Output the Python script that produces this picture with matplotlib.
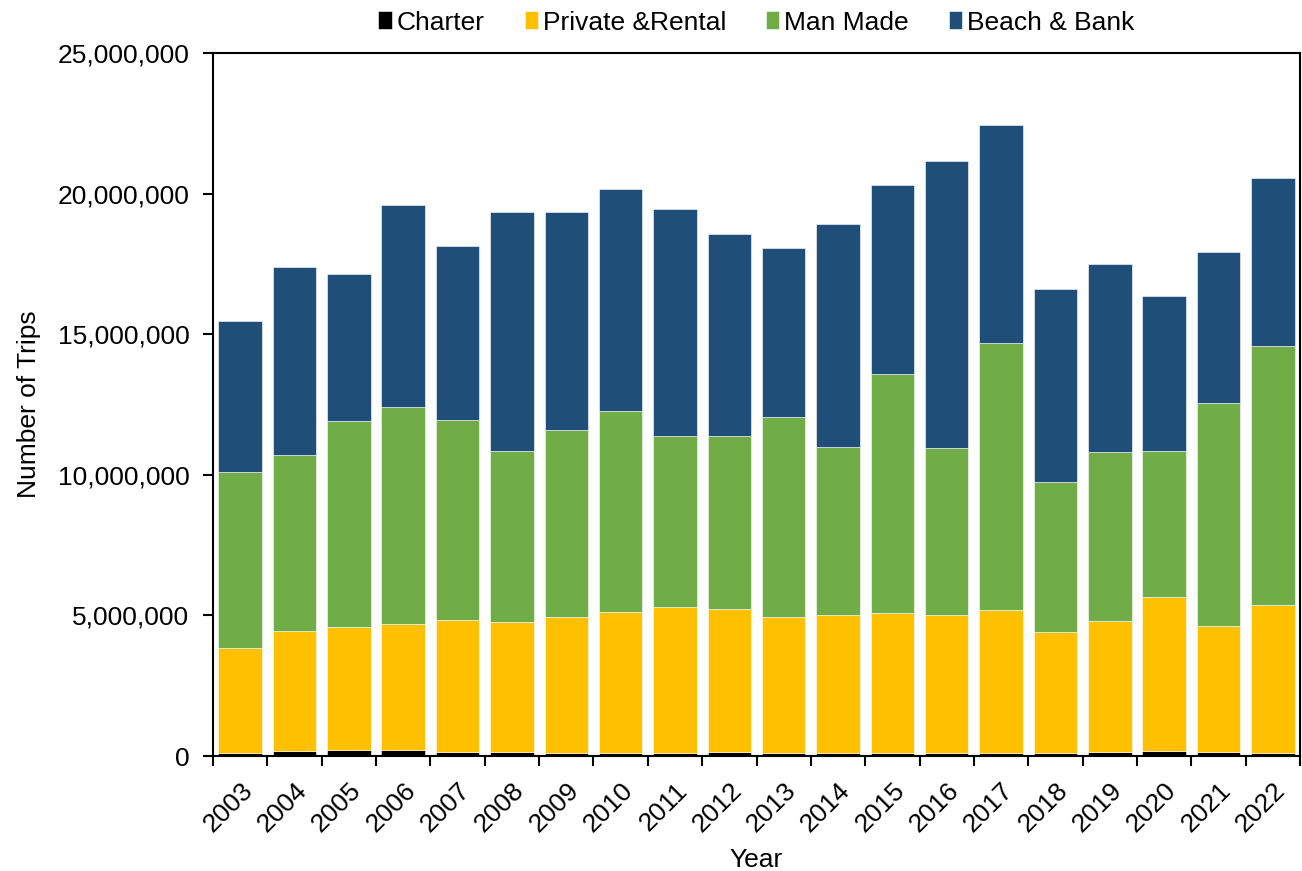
import numpy as np
import matplotlib.pyplot as plt
from matplotlib.ticker import FuncFormatter

plt.rcParams.update({
    "font.family": ["Liberation Sans", "DejaVu Sans"],
    "font.size": 19,
})

years = [str(y) for y in range(2003, 2023)]

# trips per year, by mode
charter = [120e3, 165e3, 200e3, 200e3, 155e3, 155e3, 115e3, 115e3, 115e3, 155e3,
           115e3, 100e3, 90e3, 110e3, 110e3, 110e3, 140e3, 190e3, 150e3, 110e3]
private_rental = [3.73e6, 4.275e6, 4.37e6, 4.51e6, 4.685e6, 4.605e6, 4.825e6, 5.015e6,
                  5.195e6, 5.055e6, 4.825e6, 4.90e6, 4.99e6, 4.89e6, 5.07e6, 4.29e6,
                  4.67e6, 5.45e6, 4.48e6, 5.26e6]
man_made = [6.24e6, 6.25e6, 7.35e6, 7.70e6, 7.12e6, 6.07e6, 6.64e6, 7.14e6, 6.06e6,
            6.16e6, 7.12e6, 5.99e6, 8.52e6, 5.96e6, 9.51e6, 5.33e6, 6.00e6, 5.22e6,
            7.91e6, 9.22e6]
beach_bank = [5.38e6, 6.69e6, 5.23e6, 7.19e6, 6.19e6, 8.50e6, 7.75e6, 7.89e6, 8.10e6,
              7.20e6, 6.02e6, 7.94e6, 6.69e6, 10.21e6, 7.76e6, 6.88e6, 6.69e6, 5.51e6,
              5.39e6, 5.97e6]

series = [
    ("Charter", charter, "#000000"),
    ("Private &Rental", private_rental, "#FFC000"),
    ("Man Made", man_made, "#70AD47"),
    ("Beach & Bank", beach_bank, "#1F4E79"),
]

fig = plt.figure(figsize=(13.02, 8.71), dpi=100)
ax = fig.add_axes([213 / 1302, 115 / 871, 1087 / 1302, 703 / 871])

x = np.arange(len(years))
bottom = np.zeros(len(years))
for name, vals, col in series:
    vals = np.array(vals)
    ax.bar(x, vals, 0.8, bottom=bottom, color=col, label=name,
           edgecolor="white", linewidth=0.4)
    bottom += vals

ax.set_xlim(-0.5, len(years) - 0.5)
ax.set_ylim(0, 25e6)
ax.set_yticks(np.arange(0, 25e6 + 1, 5e6))
ax.yaxis.set_major_formatter(FuncFormatter(lambda v, p: f"{v:,.0f}"))

# ticks between categories, labels centred on bars
ax.set_xticks(np.arange(-0.5, len(years), 1.0))
ax.set_xticklabels([])
ax.set_xticks(x, minor=True)
ax.set_xticklabels(years, minor=True, rotation=45, ha="right",
                   rotation_mode="anchor")
ax.tick_params(axis="x", which="minor", length=0, pad=16)
ax.tick_params(axis="both", which="major", direction="out", length=7,
               width=1.5, color="black")
ax.tick_params(axis="y", pad=10)

for s in ax.spines.values():
    s.set_linewidth(1.5)
    s.set_color("black")

ax.set_xlabel("Year", labelpad=8)
ax.set_ylabel("Number of Trips", labelpad=12)

ax.legend(loc="lower center", bbox_to_anchor=(0.5, 1.0), ncol=4,
          frameon=False, handlelength=0.5, handleheight=0.65,
          handletextpad=0.2, columnspacing=1.5, borderaxespad=0.3,
          fontsize=19)

fig.savefig("out.png", dpi=100)
